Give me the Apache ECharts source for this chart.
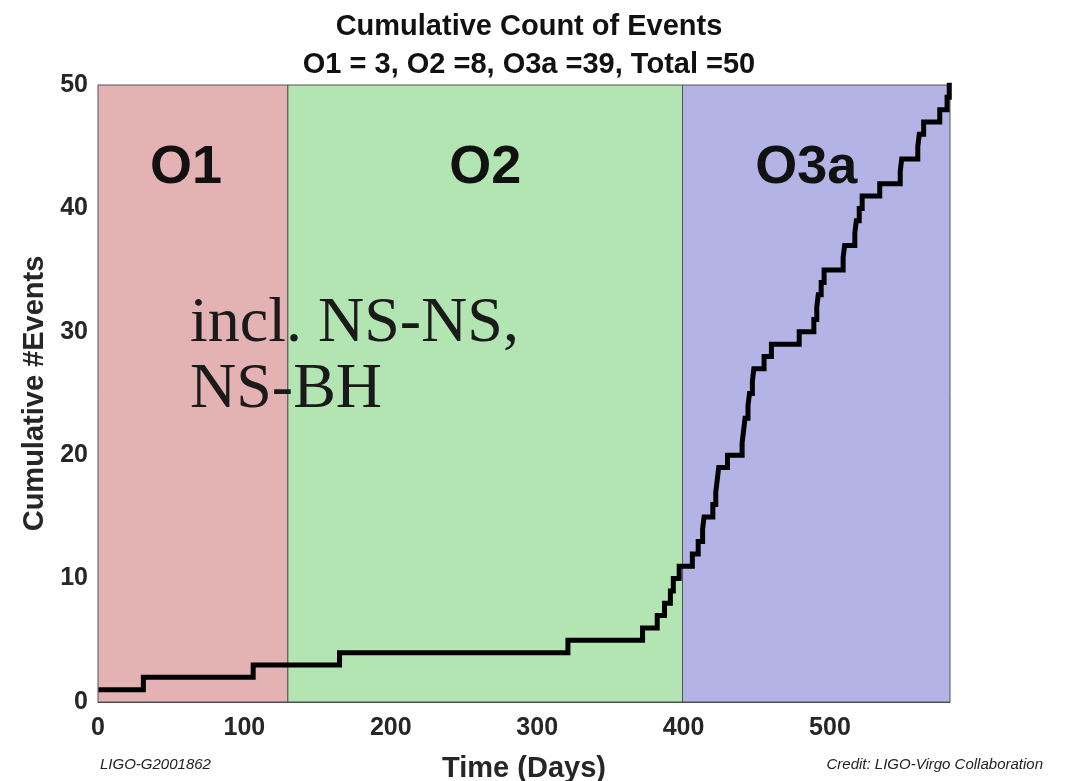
<!DOCTYPE html>
<html>
<head>
<meta charset="utf-8">
<script src="https://cdn.jsdelivr.net/npm/echarts@6/dist/echarts.min.js"></script>
<style>
html,body{margin:0;padding:0;background:#fff;}
#chart{width:1069px;height:781px;}
</style>
</head>
<body>
<div id="chart"></div>
<script>
// Event days (x) and the cumulative count reached at each event (y)
const eventDays = [2, 31, 106,
  165, 321, 372, 382, 387, 391, 393, 397,
  406, 410, 413, 414, 420, 422, 423, 424, 430,
  440, 441, 442, 444, 445, 447, 448, 455, 460, 479,
  489, 491, 492, 494, 496, 509, 510, 517, 518, 520,
  522, 534, 548, 549, 560, 561, 564, 575, 580, 581.5];
const cumulativeCounts = [1, 2, 3,
  4, 5, 6, 7, 8, 9, 10, 11,
  12, 13, 14, 15, 16, 17, 18, 19, 20,
  21, 22, 23, 24, 25, 26, 27, 28, 29, 30,
  31, 32, 33, 34, 35, 36, 37, 38, 39, 40,
  41, 42, 43, 44, 45, 46, 47, 48, 49, 50];

// Observing runs
const runNames = ['O1', 'O2', 'O3a'];
const runStart = [0, 129.7, 399.3];
const runEnd = [129.7, 399.3, 582];
const runColors = ['#e4b2b2', '#b3e5b3', '#b3b3e5'];

const xTicks = { min: 0, max: 582, interval: 100 };
const yTicks = { min: 0, max: 50, interval: 10 };

const FONT = "'Liberation Sans', Arial, Helvetica, sans-serif";
const chart = echarts.init(document.getElementById('chart'));

const labelShift = [-7, 0, -10];
const areaData = runNames.map((n, i) => [
  { name: n, xAxis: runStart[i], itemStyle: { color: runColors[i] }, label: { offset: [labelShift[i], 0] } },
  { xAxis: runEnd[i] }
]);

chart.setOption({
  animation: false,
  backgroundColor: '#ffffff',
  title: {
    text: 'Cumulative Count of Events\nO1 = 3, O2 =8, O3a =39, Total =50',
    left: 524,
    textAlign: 'center',
    top: 3,
    textStyle: { fontFamily: FONT, fontWeight: 'bold', fontSize: 29, lineHeight: 38, color: '#111' }
  },
  grid: { left: 98, right: 119, top: 85, bottom: 79, outerBoundsMode: 'none', containLabel: false },
  xAxis: {
    type: 'value',
    min: xTicks.min, max: xTicks.max, interval: xTicks.interval,
    name: 'Time (Days)',
    nameLocation: 'middle',
    nameGap: 52,
    nameTextStyle: { fontFamily: FONT, fontWeight: 'bold', fontSize: 29, color: '#262626' },
    axisLine: { show: true, onZero: false, lineStyle: { color: '#444', width: 1 } },
    axisTick: { show: false },
    splitLine: { show: false },
    axisLabel: { showMaxLabel: false, margin: 14, fontFamily: FONT, fontWeight: 'bold', fontSize: 25, color: '#262626' }
  },
  yAxis: {
    type: 'value',
    min: yTicks.min, max: yTicks.max, interval: yTicks.interval,
    name: 'Cumulative #Events',
    nameLocation: 'middle',
    nameGap: 48,
    nameTextStyle: { fontFamily: FONT, fontWeight: 'bold', fontSize: 29, color: '#262626' },
    axisLine: { show: true, lineStyle: { color: '#444', width: 1 } },
    axisTick: { show: false },
    splitLine: { show: false },
    axisLabel: { margin: 10, fontFamily: FONT, fontWeight: 'bold', fontSize: 25, color: '#262626' }
  },
  graphic: [
    {
      type: 'text', left: 190, top: 291, z: 50,
      style: { text: 'incl. NS-NS,\nNS-BH', font: "64px 'Liberation Serif', 'Times New Roman', serif", lineHeight: 66, fill: '#1a1a1a' }
    },
    {
      type: 'text', left: 100, top: 757, z: 50,
      style: { text: 'LIGO-G2001862', font: "italic 15px " + FONT, fill: '#222' }
    },
    {
      type: 'text', right: 26, top: 757, z: 50,
      style: { text: 'Credit: LIGO-Virgo Collaboration', font: "italic 15px " + FONT, fill: '#222' }
    }
  ],
  series: [{
    type: 'line',
    step: 'end',
    showSymbol: false,
    symbol: 'none',
    data: eventDays.map((d, i) => [d, cumulativeCounts[i]]),
    lineStyle: { color: '#000', width: 5, cap: 'square', join: 'miter' },
    z: 10,
    markArea: {
      silent: true,
      itemStyle: { borderColor: '#555', borderWidth: 1 },
      label: {
        show: true, position: 'insideTop', distance: 57,
        fontFamily: FONT, fontWeight: 'bold', fontSize: 54, color: '#111'
      },
      data: areaData
    }
  }]
});
</script>
</body>
</html>
